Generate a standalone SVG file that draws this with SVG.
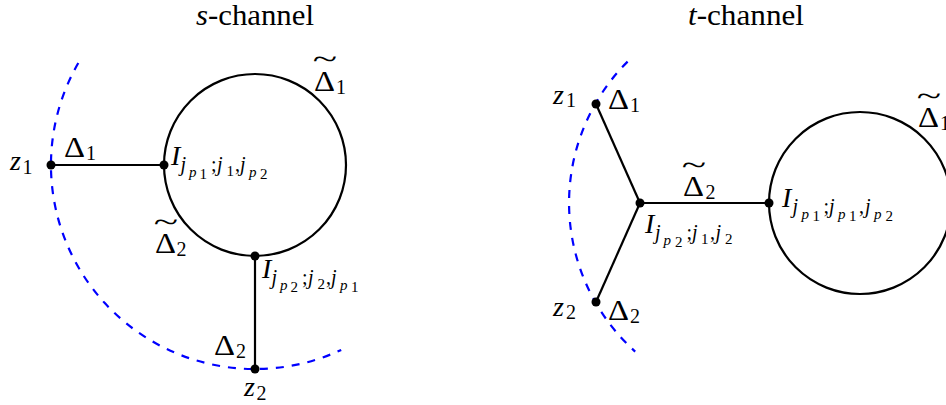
<svg xmlns="http://www.w3.org/2000/svg" width="946" height="405" viewBox="0 0 946 405">
<style>
.t{font-family:"Liberation Serif","Times New Roman",serif;fill:#000}
.h{font-size:29px}
.m{font-size:28px}
.d{font-size:29px}
.s{font-size:20px}
.ss{font-size:15px}
.i{font-style:italic}
.tl{font-family:"Liberation Serif","Times New Roman",serif;font-size:30px;fill:#000;text-anchor:middle}
.e{fill:none;stroke:#000;stroke-width:2.2}
.c{fill:none;stroke:#0000ff;stroke-width:2.2;stroke-dasharray:8 8}
.n{fill:#000}
</style>
<rect width="946" height="405" fill="#fff"/>
<g id="titles">
<text class="t h" x="196" y="25" textLength="118" lengthAdjust="spacingAndGlyphs"><tspan class="i">s</tspan>-channel</text>
<text class="t h" x="688" y="25" textLength="116" lengthAdjust="spacingAndGlyphs"><tspan class="i">t</tspan>-channel</text>
</g>
<g id="contours">
<path class="c" d="M78.3,63 A204,204 0 0 0 341.2,349.9"/>
<path class="c" d="M627.6,61.6 A200,200 0 0 0 635.2,351.6"/>
</g>
<g id="connectors">
<line class="e" x1="51" y1="165" x2="164" y2="165"/>
<line class="e" x1="255" y1="256" x2="255" y2="369"/>
<circle class="e" cx="255" cy="165" r="91"/>
<line class="e" x1="596" y1="104" x2="640" y2="203"/>
<line class="e" x1="596" y1="302" x2="640" y2="203"/>
<line class="e" x1="640" y1="203" x2="769" y2="203"/>
<circle class="e" cx="860" cy="203" r="91"/>
</g>
<g id="loop-labels">
<text class="tl" transform="translate(325,69) scale(1.5,1)">~</text>
<text class="t d" x="314" y="91" textLength="21" lengthAdjust="spacingAndGlyphs">Δ</text><text class="t s" x="336" y="94">1</text>
<text class="tl" transform="translate(166,232) scale(1.5,1)">~</text>
<text class="t d" x="155" y="253" textLength="21" lengthAdjust="spacingAndGlyphs">Δ</text><text class="t s" x="176.5" y="256">2</text>
<text class="tl" transform="translate(694,175) scale(1.5,1)">~</text>
<text class="t d" x="683" y="196" textLength="21" lengthAdjust="spacingAndGlyphs">Δ</text><text class="t s" x="705.5" y="199">2</text>
<text class="tl" transform="translate(929,106) scale(1.5,1)">~</text>
<text class="t d" x="918" y="127" textLength="21" lengthAdjust="spacingAndGlyphs">Δ</text><text class="t s" x="940" y="130">1</text>
</g>
<g id="s-z1">
<circle class="n" cx="51" cy="165" r="4.5"/>
<text class="t m i" x="10" y="170">z</text><text class="t s" x="22.5" y="174">1</text>
<text class="t d" x="64" y="157" textLength="21" lengthAdjust="spacingAndGlyphs">Δ</text><text class="t s" x="86" y="160">1</text>
</g>
<g id="s-v1">
<circle class="n" cx="164" cy="165" r="4.5"/>
<text class="t"><tspan class="m i" x="171" y="165">I</tspan><tspan class="s i" x="180.5" y="171">j</tspan><tspan class="ss i" x="189" y="177">p</tspan><tspan class="ss" x="199.5" y="179">1</tspan><tspan class="s" x="211" y="171">;</tspan><tspan class="s i" x="217" y="171">j</tspan><tspan class="ss" x="226.5" y="176">1</tspan><tspan class="s" x="235" y="171">,</tspan><tspan class="s i" x="240" y="171">j</tspan><tspan class="ss i" x="249" y="177">p</tspan><tspan class="ss" x="260" y="179">2</tspan></text>
</g>
<g id="s-v2">
<circle class="n" cx="255" cy="256" r="4.5"/>
<text class="t"><tspan class="m i" x="262" y="278">I</tspan><tspan class="s i" x="271.5" y="284">j</tspan><tspan class="ss i" x="280" y="290">p</tspan><tspan class="ss" x="290.5" y="292">2</tspan><tspan class="s" x="302" y="284">;</tspan><tspan class="s i" x="308" y="284">j</tspan><tspan class="ss" x="317.5" y="289">2</tspan><tspan class="s" x="326" y="284">,</tspan><tspan class="s i" x="331" y="284">j</tspan><tspan class="ss i" x="340" y="290">p</tspan><tspan class="ss" x="351" y="292">1</tspan></text>
</g>
<g id="s-z2">
<circle class="n" cx="255" cy="369" r="4.5"/>
<text class="t d" x="214" y="355" textLength="21" lengthAdjust="spacingAndGlyphs">Δ</text><text class="t s" x="236" y="358">2</text>
<text class="t m i" x="244" y="396">z</text><text class="t s" x="256.5" y="400">2</text>
</g>
<g id="t-z1">
<circle class="n" cx="596" cy="104" r="4.5"/>
<text class="t m i" x="553" y="104">z</text><text class="t s" x="566" y="107">1</text>
<text class="t d" x="608" y="109" textLength="21" lengthAdjust="spacingAndGlyphs">Δ</text><text class="t s" x="630" y="112">1</text>
</g>
<g id="t-z2">
<circle class="n" cx="596" cy="302" r="4.5"/>
<text class="t m i" x="553" y="316">z</text><text class="t s" x="566" y="319">2</text>
<text class="t d" x="608" y="320" textLength="21" lengthAdjust="spacingAndGlyphs">Δ</text><text class="t s" x="630" y="323">2</text>
</g>
<g id="t-v1">
<circle class="n" cx="640" cy="203" r="4.5"/>
<text class="t"><tspan class="m i" x="645" y="233">I</tspan><tspan class="s i" x="655" y="239">j</tspan><tspan class="ss i" x="663.5" y="245">p</tspan><tspan class="ss" x="675" y="247">2</tspan><tspan class="s" x="686.5" y="239">;</tspan><tspan class="s i" x="692" y="239">j</tspan><tspan class="ss" x="701" y="244">1</tspan><tspan class="s" x="710" y="239">,</tspan><tspan class="s i" x="715.5" y="239">j</tspan><tspan class="ss" x="725" y="244">2</tspan></text>
</g>
<g id="t-v2">
<circle class="n" cx="769" cy="203" r="4.5"/>
<text class="t"><tspan class="m i" x="782" y="207">I</tspan><tspan class="s i" x="792.5" y="213">j</tspan><tspan class="ss i" x="801.5" y="219">p</tspan><tspan class="ss" x="812.5" y="221">1</tspan><tspan class="s" x="823.5" y="213">;</tspan><tspan class="s i" x="829" y="213">j</tspan><tspan class="ss i" x="838" y="219">p</tspan><tspan class="ss" x="849" y="221">1</tspan><tspan class="s" x="859" y="213">,</tspan><tspan class="s i" x="865" y="213">j</tspan><tspan class="ss i" x="874" y="219">p</tspan><tspan class="ss" x="885.5" y="221">2</tspan></text>
</g>
</svg>
